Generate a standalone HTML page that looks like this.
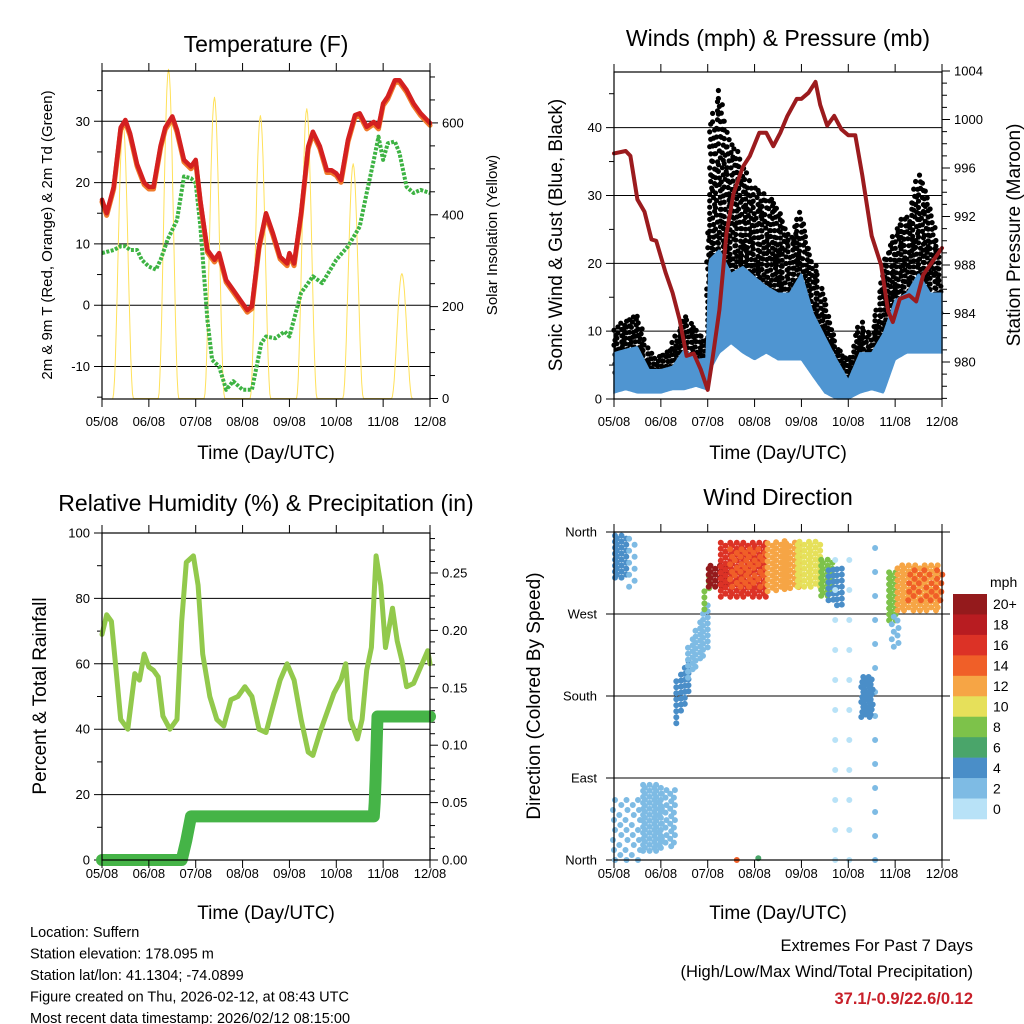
<!DOCTYPE html>
<html><head><meta charset="utf-8"><style>
html,body{margin:0;padding:0;background:#fff;}
svg{display:block;font-family:"Liberation Sans",sans-serif;}
</style></head><body>
<svg id="c" width="1024" height="1024" viewBox="0 0 1024 1024" xmlns="http://www.w3.org/2000/svg">
<rect width="1024" height="1024" fill="#fff"/>
<g id="g"></g>
</svg>
<script>
// ---------- DATA ----------
const dayLabels = ["05/08","06/08","07/08","08/08","09/08","10/08","11/08","12/08"];
// Temperature (F)
const tempT = [0,0.1,0.25,0.4,0.5,0.6,0.75,0.9,1.0,1.1,1.25,1.35,1.5,1.6,1.75,1.9,2.0,2.1,2.25,2.4,2.5,2.65,2.8,3.0,3.1,3.2,3.35,3.5,3.65,3.8,3.95,4.0,4.1,4.25,4.4,4.5,4.65,4.8,4.9,5.0,5.1,5.25,5.4,5.5,5.65,5.8,5.9,6.0,6.1,6.25,6.35,6.5,6.65,6.8,7.0];
const tempV = [17.2,15,19.3,29,30.2,28,23,20,19.3,19.3,26,29,30.8,28.6,23.7,22.6,23.7,17,9,7.4,8.5,4.1,2.5,0.3,-0.8,-0.2,9.6,15,11.7,7.9,6.8,8.5,6.8,15,25.9,28.3,25.9,22,22,21.5,20.4,27,31,31.3,29.1,29.9,29.1,32.9,34,36.7,36.7,35.1,32.9,31.3,29.7];
const dewT = [0,0.25,0.4,0.5,0.6,0.75,0.85,1.0,1.15,1.25,1.4,1.6,1.75,1.9,2.0,2.1,2.25,2.35,2.5,2.65,2.8,3.0,3.2,3.4,3.5,3.7,3.9,4.0,4.25,4.5,4.7,5.0,5.25,5.5,5.65,5.8,5.9,6.0,6.1,6.25,6.35,6.5,6.65,6.8,7.0];
const dewV = [8.5,9,9.6,9.6,9,9,7.4,6.3,5.8,7.4,10.7,13.9,21,20.7,19.9,12.8,-2.4,-8.9,-10,-13.8,-12.4,-13.8,-13.8,-6.2,-5.1,-5.4,-4.3,-5.1,2,4.7,3.6,7.4,9.6,12.8,18.3,23.7,27.5,23.7,26.4,26.7,24.8,19.3,18.3,18.8,18.3];
const solarDay = [0.45,1.42,2.4,3.38,4.37,5.36,6.4];
const solarPeak = [600,717,656,616,631,511,272];
// Winds
const windT = [0,0.25,0.5,0.75,1,1.25,1.5,1.75,1.97,2.03,2.25,2.5,2.75,3,3.25,3.5,3.75,4,4.25,4.5,4.75,5,5.25,5.5,5.75,6,6.25,6.5,6.75,7];
const windHi = [6.8,7.3,7.7,4.3,4.3,4.8,7.3,5.8,6,20.5,22,18.5,19.5,18,16.6,15.6,15.6,18.5,12.6,9.2,5.8,2.8,6.8,6.8,9.7,14.6,15.6,18.5,15.6,15.6];
const windLo = [0.9,1.4,0.9,0.9,0.9,1.4,1.4,1.9,1.4,4,6.8,8.2,6.8,5.8,6.8,5.8,5.8,5.8,3.3,0.9,0,0,0.9,1.4,0.9,5.8,6.8,6.8,6.8,6.8];
const gustHi = [10.7,11.7,12.6,6.8,6.8,8.2,12.6,10.7,9,40,46,38,35,31,30,29,24,28,20.5,15.6,8.2,5.8,11.7,9.7,20.5,25.4,27.3,34,29,20.5];
const presT = [0,0.25,0.35,0.5,0.65,0.8,0.9,1.1,1.25,1.4,1.55,1.7,1.85,2.0,2.1,2.25,2.4,2.55,2.75,2.9,3.1,3.25,3.4,3.55,3.7,3.9,4.0,4.15,4.3,4.4,4.55,4.7,4.85,5.0,5.15,5.3,5.5,5.7,5.85,5.95,6.1,6.3,6.45,6.6,6.8,7.0];
const presV = [997.2,997.4,997.0,993.4,992.4,990.1,990.0,987.4,985.7,983.5,980.5,980.7,979.4,977.7,980.2,984.3,990.6,993.9,996.1,997.0,998.9,998.9,997.8,998.9,1000.3,1001.7,1001.7,1002.2,1003.1,1001.2,999.5,1000.3,999.2,998.7,998.7,995.4,990.4,988.0,984.2,983.3,985.2,985.5,985.0,987.2,988.3,989.4];
// Humidity & precipitation
const rhT = [0,0.1,0.2,0.3,0.4,0.55,0.7,0.8,0.9,1.0,1.1,1.2,1.3,1.45,1.6,1.7,1.8,1.95,2.05,2.15,2.3,2.45,2.6,2.75,2.9,3.05,3.2,3.35,3.5,3.65,3.8,3.95,4.1,4.25,4.4,4.5,4.65,4.8,4.95,5.1,5.2,5.3,5.45,5.55,5.65,5.75,5.85,5.95,6.05,6.15,6.2,6.3,6.4,6.5,6.65,6.8,6.95,7.0];
const rhV = [69,75,73,58,43,40,57,55,63,59,58,56,44,40,43,73,91,93,84,63,50,43,41,49,50,53,50,40,39,47,55,60,55,43,33,32,39,45,51,55,60,43,37,43,58,65,93,84,65,73,77,67,61,53,54,59,64,60];
const rainT = [0,1.7,1.8,1.9,5.8,5.82,5.84,5.86,5.88,7];
const rainV = [0,0,0.017,0.038,0.038,0.05,0.07,0.10,0.125,0.125];
// Wind direction clusters (time range, direction range at start/end, speed mph)
const dirT0 = [0,0.3,0,0.6,1.0,1.35,1.6,1.95,2.0,2.3,2.5,3.3,3.9,4.4,4.6,4.7,5.0,5.55,5.3,5.85,5.95,6.05,6.3,2.6,3.1];
const dirT1 = [0.3,0.55,0.6,1.0,1.35,1.65,2.0,2.05,2.4,3.3,3.3,4.0,4.4,4.7,4.9,4.85,5.2,5.7,5.55,6.05,6.1,7.0,7.0,2.62,3.12];
const dirLo0 = [310,300,0,10,15,150,200,275,300,289,300,295,300,290,285,0,0,0,157,263,234,274,285,0,2];
const dirHi0 = [358,358,70,85,80,200,235,300,326,351,345,350,352,330,320,359,359,359,201,318,271,326,320,2,4];
const dirLo1 = [310,300,0,10,15,190,230,300,300,289,300,300,300,290,275,0,0,0,157,263,234,274,285,0,2];
const dirHi1 = [358,358,70,85,80,230,280,320,326,351,345,350,352,330,320,359,359,359,201,318,271,326,320,2,4];
const dirSpd = [4,2,2,3,2,4,2,8,21,17,15,13,11,8,4,1,1,2,4,9,3,13,15,14,7];
const dirDense = [1,0.5,0.6,1,0.8,1,1,1,1,1,0.8,1,1,1,1,0.2,0.2,0.25,1.2,1,0.8,1,0.7,1,1];
const cbLabels = ["20+","18","16","14","12","10","8","6","4","2","0"];
const cbColors = ["#941a1c","#b81c21","#dc3226","#f05f28","#f6a545","#e6e05a","#7dc24a","#4aa56a","#4a8ec8","#7ebbe4","#b8e2f7"];

// ---------- HELPERS ----------
const NS="http://www.w3.org/2000/svg";
const G=document.getElementById('g');
function el(tag,attrs,parent){const e=document.createElementNS(NS,tag);for(const k in attrs)e.setAttribute(k,attrs[k]);(parent||G).appendChild(e);return e;}
function txt(s,x,y,size,anchor,extra){const e=el('text',Object.assign({x:x,y:y,'font-size':size,'text-anchor':anchor||'middle',fill:'#000'},extra||{}));e.textContent=s;return e;}
function interp(ts,vs,t){if(t<=ts[0])return vs[0];for(let i=1;i<ts.length;i++){if(t<=ts[i]){const f=(t-ts[i-1])/(ts[i]-ts[i-1]);return vs[i-1]+f*(vs[i]-vs[i-1]);}}return vs[vs.length-1];}
function mk(x0,x1,y0,y1){return {x0,x1,y0,y1,sx:t=>x0+(x1-x0)*t/7};}
function lin(v0,v1,p0,p1){return v=>p0+(v-v0)*(p1-p0)/(v1-v0);}

function frame(P,name){
  const f=el('rect',{x:P.x0,y:P.y0,width:P.x1-P.x0,height:P.y1-P.y0,fill:'none',stroke:'#000','stroke-width':1.2});
  
}
function xaxis(P,name,lab,ttl){
  const g=el('g',{});
  for(let d=0;d<8;d++){const x=P.sx(d);
    el('line',{x1:x,x2:x,y1:P.y0-8,y2:P.y0,stroke:'#000','stroke-width':1},g);
    el('line',{x1:x,x2:x,y1:P.y1,y2:P.y1+8,stroke:'#000','stroke-width':1},g);
    const t=txt(dayLabels[d],x,P.y1+lab,13,'middle');g.appendChild(t);
    }
  const tt=txt('Time (Day/UTC)',(P.x0+P.x1)/2,P.y1+ttl,19,'middle');
  
}
function yleft(P,sy,majors,minors,labels,name,grid){
  const g=el('g',{});
  minors.forEach(v=>{const y=sy(v);el('line',{x1:P.x0-5,x2:P.x0,y1:y,y2:y,stroke:'#000','stroke-width':1},g);});
  majors.forEach((v,i)=>{const y=sy(v);
    el('line',{x1:P.x0-8,x2:grid?P.x1:P.x0,y1:y,y2:y,stroke:'#000','stroke-width':1},g);
    const t=txt(labels[i],P.x0-12,y+4.5,13,'end');g.appendChild(t);
    });
}
function yright(P,sy,majors,minors,labels,name){
  const g=el('g',{});
  minors.forEach(v=>{const y=sy(v);el('line',{x1:P.x1,x2:P.x1+5,y1:y,y2:y,stroke:'#000','stroke-width':1},g);});
  majors.forEach((v,i)=>{const y=sy(v);
    el('line',{x1:P.x1,x2:P.x1+8,y1:y,y2:y,stroke:'#000','stroke-width':1},g);
    const t=txt(labels[i],P.x1+12,y+4.5,13,'start');g.appendChild(t);
    });
}
function vtitle(s,x,y,size,name){const t=txt(s,x,y,size,'middle',{transform:`rotate(-90 ${x} ${y})`});
  }
function title(s,x,y,name){const t=txt(s,x,y,23,'middle');}
function poly(P,ts,vs,sy,attrs,name){
  const pts=ts.map((t,i)=>P.sx(t).toFixed(1)+','+sy(vs[i]).toFixed(1)).join(' ');
  const p=el('polyline',Object.assign({points:pts,fill:'none','stroke-linejoin':'round','stroke-linecap':'round'},attrs));
  return p;
}
function dotPath(list,r){let d='';list.forEach(([x,y])=>{d+=`M${(x-r).toFixed(1)} ${y.toFixed(1)}a${r} ${r} 0 1 0 ${2*r} 0a${r} ${r} 0 1 0 ${-2*r} 0`;});return d;}

// ---------- PANEL 1: TEMPERATURE ----------
const P1=mk(102,430,71,399);
const s1=lin(-15.3,38.2,399,71);
const s1r=lin(0,713,398.5,71);
title('Temperature (F)',266,52,'temperature-title');
yleft(P1,s1,[-10,0,10,20,30],[-15,-5,5,15,25,35],["-10","0","10","20","30"],'temperature',true);
yright(P1,s1r,[0,200,400,600],[50,100,150,250,300,350,450,500,550,650,700],["0","200","400","600"],'solar');
(function(){let pts=[];
  solarDay.forEach((c,i)=>{for(let k=0;k<=24;k++){const t=c-0.22+0.44*k/24;const v=solarPeak[i]*Math.pow(Math.sin(Math.PI*k/24),2);pts.push([t,v]);}});
  poly(P1,pts.map(p=>p[0]),pts.map(p=>p[1]),s1r,{stroke:'#ffe15a','stroke-width':1},'solar-insolation-line');
})();
poly(P1,dewT,dewV,s1,{stroke:'#3db343','stroke-width':4,'stroke-dasharray':'3 1.5','stroke-linecap':'butt'},'dewpoint-2m-line');
poly(P1,tempT,tempV.map(v=>v-0.35),s1,{stroke:'#f07a2a','stroke-width':5},'temperature-9m-line');
poly(P1,tempT,tempV,s1,{stroke:'#d42020','stroke-width':4.5},'temperature-2m-line');
frame(P1,'temperature');xaxis(P1,'temperature',27,60);
vtitle('2m & 9m T (Red, Orange) & 2m Td (Green)',52,235,15,'temperature-y-axis-title');
vtitle('Solar Insolation (Yellow)',497,235,15,'solar-y-axis-title');

// ---------- PANEL 2: WINDS ----------
const P2=mk(614,942,72,399);
const s2=lin(0,48.2,399,72);
const s2r=lin(980,1004,362,71);
title('Winds (mph) & Pressure (mb)',778,46,'winds-title');
yleft(P2,s2,[0,10,20,30,40],[5,15,25,35,45],["0","10","20","30","40"],'wind',true);
(function(){const mj=[980,984,988,992,996,1000,1004],mn=[];for(let p=977;p<=1003;p++)if(p%4)mn.push(p);
  yright(P2,s2r,mj,mn,mj.map(String),'pressure');})();
(function(){const list=[];let col=0;
  for(let x=P2.x0+1;x<P2.x1;x+=2.9,col++){const t=(x-P2.x0)/(P2.x1-P2.x0)*7;
    const lo=(interp(windT,windLo,t)+interp(windT,windHi,t))/2,hi=interp(windT,gustHi,t);
    const yTop=s2(hi),yBot=s2(lo);
    let step=4.3+((col%3)*0.6);
    for(let y=yBot-(col%2)*2.2;y>=yTop;y-=step){list.push([x+((col*7+Math.round(y))%3)-1,y]);step*=1.018;}}
  const p=el('path',{d:dotPath(list,2.6),fill:'#000'});
  
  const top=[],bot=[];
  for(let x=P2.x0;x<=P2.x1;x+=1){const t=(x-P2.x0)/(P2.x1-P2.x0)*7;
    top.push(x+','+s2(interp(windT,windHi,t)).toFixed(1));bot.unshift(x+','+s2(interp(windT,windLo,t)).toFixed(1));}
  const b=el('polygon',{points:top.concat(bot).join(' '),fill:'#4f95d1',stroke:'#4f95d1','stroke-width':1.5});
  
})();
poly(P2,presT,presV,s2r,{stroke:'#9b1b1e','stroke-width':4},'station-pressure-line');
frame(P2,'winds');xaxis(P2,'winds',27,60);
vtitle('Sonic Wind & Gust (Blue, Black)',562,235,19,'wind-y-axis-title');
vtitle('Station Pressure (Maroon)',1020,235,19,'pressure-y-axis-title');

// ---------- PANEL 3: RH & PRECIP ----------
const P3=mk(102,430,533,860);
const s3=lin(0,100,860,533);
const s3r=lin(0,0.05,860,802.6);
title('Relative Humidity (%) & Precipitation (in)',266,511,'humidity-title');
yleft(P3,s3,[0,20,40,60,80,100],[10,30,50,70,90],["0","20","40","60","80","100"],'humidity',true);
(function(){const mj=[0,0.05,0.1,0.15,0.2,0.25],mn=[];for(let i=1;i<29;i++)if(i%5)mn.push(i/100);
  yright(P3,s3r,mj,mn,mj.map(v=>v.toFixed(2)),'precip');})();
poly(P3,rhT,rhV,s3,{stroke:'#92c94c','stroke-width':5},'relative-humidity-line');
poly(P3,rainT,rainV,s3r,{stroke:'#45b447','stroke-width':12},'total-rainfall-line');
frame(P3,'humidity');xaxis(P3,'humidity',18,59);
vtitle('Percent & Total Rainfall',46,696,19,'humidity-y-axis-title');

// ---------- PANEL 4: WIND DIRECTION ----------
const P4=mk(614,942,532,860);
const s4=lin(0,360,860,532);
title('Wind Direction',778,505,'wind-direction-title');
(function(){const names=["North","East","South","West","North"];const g=el('g',{});
  
  [0,90,180,270,360].forEach((v,i)=>{const y=s4(v);el('line',{x1:P4.x0-8,x2:P4.x1+8,y1:y,y2:y,stroke:'#000','stroke-width':1},g);
    const t=txt(names[i],P4.x0-17,y+4.5,13,'end');g.appendChild(t);});})();
function spdColor(s){return cbColors[10-Math.max(0,Math.min(10,Math.floor(s/2)))];}
dirT0.forEach((t0,i)=>{const t1=dirT1[i];const list=[];
  const x0=P4.sx(t0),x1=P4.sx(t1);const dx=6/dirDense[i];let col=0;
  for(let x=x0;x<=x1+0.01;x+=Math.max(3,dx/1.6),col++){const f=x1>x0?(x-x0)/(x1-x0):0;
    const lo=dirLo0[i]+f*(dirLo1[i]-dirLo0[i]),hi=dirHi0[i]+f*(dirHi1[i]-dirHi0[i]);
    const yA=s4(hi),yB=s4(lo);
    for(let y=yB-(col%2)*dx/2;y>=yA-0.01;y-=dx){list.push([x+((col+Math.round(y))%3)-1,y]);}}
  const p=el('path',{d:dotPath(list,3),fill:spdColor(dirSpd[i])});
  
});
frame(P4,'wind-direction');xaxis(P4,'wind-direction',18,59);
vtitle('Direction (Colored By Speed)',540,696,19,'direction-y-axis-title');
(function(){const g=el('g',{});
  const h=(819-594)/11;
  cbColors.forEach((c,i)=>{const r=el('rect',{x:953,y:594+i*h,width:34,height:h+0.3,fill:c},g);
    
    const t=txt(cbLabels[i],993,594+i*h+h/2+5,14,'start');g.appendChild(t);
    });
  const m=txt('mph',990,587,14,'start');g.appendChild(m);
})();

// ---------- FOOTER ----------
["Location: Suffern","Station elevation: 178.095 m","Station lat/lon: 41.1304; -74.0899","Figure created on Thu, 2026-02-12, at 08:43 UTC","Most recent data timestamp: 2026/02/12 08:15:00"].forEach((s,i)=>{
  const t=txt(s,30,937+i*21.5,14.5,'start');});
(function(){let t=txt('Extremes For Past 7 Days',973,951,16.5,'end');
  t=txt('(High/Low/Max Wind/Total Precipitation)',973,977,16.5,'end');
  t=txt('37.1/-0.9/22.6/0.12',973,1004,16.5,'end',{fill:'#c8202a','font-weight':'bold'});})();
</script>
</body></html>
